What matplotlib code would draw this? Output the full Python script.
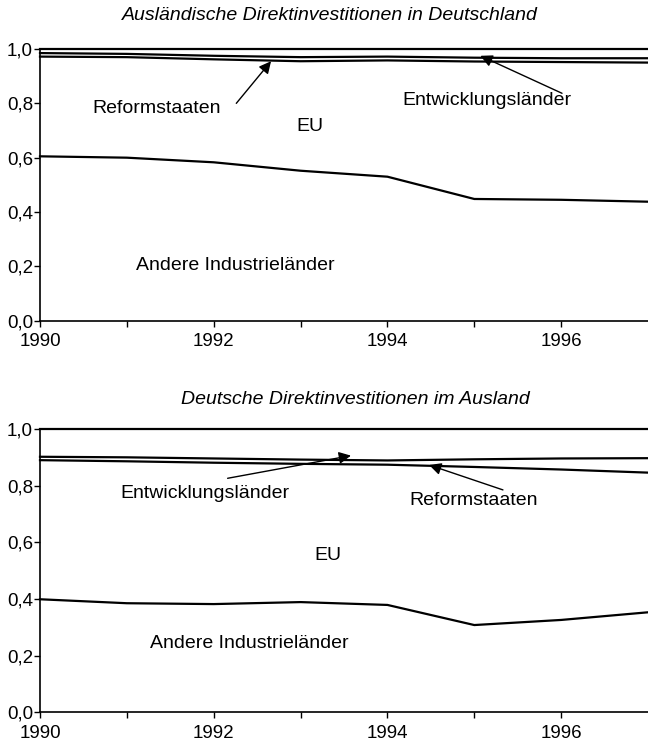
import matplotlib
matplotlib.use("Agg")
import matplotlib.pyplot as plt
import numpy as np

plt.rcParams['font.family'] = ['Liberation Sans', 'DejaVu Sans']

jahre = [1990, 1991, 1992, 1993, 1994, 1995, 1996, 1997]

# Ausländische Direktinvestitionen in Deutschland (Anteile)
ein_andere = [0.605, 0.600, 0.583, 0.552, 0.530, 0.448, 0.445, 0.438]
ein_eu = [0.367, 0.370, 0.379, 0.403, 0.428, 0.506, 0.507, 0.512]
ein_reform = [0.013, 0.012, 0.013, 0.015, 0.014, 0.014, 0.014, 0.016]
ein_entw = [0.015, 0.018, 0.025, 0.030, 0.028, 0.032, 0.034, 0.034]

# Deutsche Direktinvestitionen im Ausland (Anteile)
aus_andere = [0.399, 0.385, 0.382, 0.389, 0.379, 0.308, 0.326, 0.353]
aus_eu = [0.491, 0.501, 0.499, 0.488, 0.495, 0.558, 0.531, 0.493]
aus_reform = [0.012, 0.014, 0.015, 0.015, 0.015, 0.027, 0.039, 0.051]
aus_entw = [0.098, 0.100, 0.104, 0.108, 0.111, 0.107, 0.104, 0.103]

y_ticks = [0.0, 0.2, 0.4, 0.6, 0.8, 1.0]
x_ticks = [1990, 1991, 1992, 1993, 1994, 1995, 1996]

W, H = 648, 748
fig = plt.figure(figsize=(W / 100, H / 100), dpi=100)


def achse(top_px, bottom_px):
    return fig.add_axes([40 / W, 1 - bottom_px / H, 608 / W, (bottom_px - top_px) / H])


def zeichne(ax, anteile, titel, titel_x, titel_y, texte, pfeile):
    kum = np.cumsum(np.array(anteile), axis=0)
    for reihe in kum:
        ax.plot(jahre, reihe, color='black', lw=1.6, solid_joinstyle='miter', clip_on=False)
    ax.set_xlim(1990, 1997)
    ax.set_ylim(0, 1.0)
    ax.set_yticks(y_ticks)
    ax.set_yticklabels([f"{v:.1f}".replace('.', ',') for v in y_ticks])
    ax.set_xticks(x_ticks)
    ax.set_xticklabels([str(j) if j % 2 == 0 else '' for j in x_ticks])
    ax.tick_params(direction='out', length=4, width=1, labelsize=13.5)
    ax.tick_params(axis='y', pad=1)
    ax.tick_params(axis='x', pad=5)
    for s in ['top', 'right']:
        ax.spines[s].set_visible(False)
    for s in ['left', 'bottom']:
        ax.spines[s].set_linewidth(1.2)
    for txt, x, y in texte:
        ax.text(x, y, txt, ha='center', va='center', fontsize=14)
    for (x0, y0), (x1, y1) in pfeile:
        ax.annotate('', xy=(x1, y1), xytext=(x0, y0),
                    arrowprops=dict(arrowstyle='-|>', color='black', lw=1,
                                    mutation_scale=18, shrinkA=0, shrinkB=0))
    fig.text(titel_x / W, 1 - titel_y / H, titel, ha='center', va='center',
             fontsize=14, style='italic')


ax1 = achse(49, 320.7)
zeichne(ax1, [ein_andere, ein_eu, ein_reform, ein_entw],
        'Ausländische Direktinvestitionen in Deutschland', 330, 15,
        [('Reformstaaten', 1991.34, 0.78), ('Entwicklungsländer', 1995.15, 0.812),
         ('EU', 1993.11, 0.714), ('Andere Industrieländer', 1992.25, 0.205)],
        [((1992.26, 0.80), (1992.66, 0.955)), ((1996.01, 0.837), (1995.07, 0.975))])

ax2 = achse(429, 712.3)
zeichne(ax2, [aus_andere, aus_eu, aus_reform, aus_entw],
        'Deutsche Direktinvestitionen im Ausland', 355, 400,
        [('Entwicklungsländer', 1991.90, 0.773), ('Reformstaaten', 1994.99, 0.749),
         ('EU', 1993.32, 0.555), ('Andere Industrieländer', 1992.41, 0.244)],
        [((1992.16, 0.826), (1993.58, 0.906)), ((1995.33, 0.785), (1994.48, 0.873))])

fig.savefig('out.png', dpi=100)
